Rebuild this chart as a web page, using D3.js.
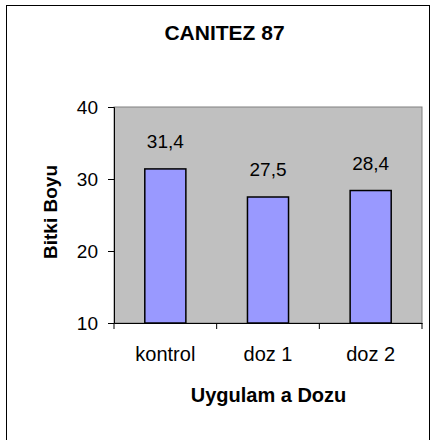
<!DOCTYPE html>
<html>
<head>
<meta charset="utf-8">
<script src="https://cdn.jsdelivr.net/npm/d3@7"></script>
<style>
  body { margin: 0; background: #fff; }
  svg text { font-family: "Liberation Sans", Arial, sans-serif; fill: #000; }
</style>
</head>
<body>
<div id="chart"></div>
<script>
// CANITEZ 87 — bitki boyu / uygulama dozu
const categories = ["kontrol", "doz 1", "doz 2"];
const values = [31.4, 27.5, 28.4];
const yTicks = [10, 20, 30, 40];

const width = 435, height = 440;
const plot = { left: 114, right: 422, top: 107, bottom: 323 };
const FONT = "Liberation Sans, Arial, sans-serif";

const svg = d3.select("#chart").append("svg")
  .attr("width", width).attr("height", height);

// cadre extérieur
svg.append("rect")
  .attr("x", 6.5).attr("y", 5.5)
  .attr("width", 423).attr("height", 440)
  .attr("fill", "#fff").attr("stroke", "#000").attr("stroke-width", 1);

const x = d3.scaleBand()
  .domain(categories)
  .range([plot.left, plot.right])
  .paddingInner(0.6)
  .paddingOuter(0.3);

const y = d3.scaleLinear()
  .domain([10, 40])
  .range([plot.bottom, plot.top]);

// fond gris de la zone de tracé
svg.append("rect")
  .attr("x", plot.left).attr("y", plot.top)
  .attr("width", plot.right - plot.left).attr("height", plot.bottom - plot.top)
  .attr("fill", "#c0c0c0").attr("stroke", "#808080").attr("stroke-width", 1);

// barres
svg.append("g").selectAll("rect")
  .data(values)
  .join("rect")
    .attr("x", (d, i) => x(categories[i]))
    .attr("y", d => y(d))
    .attr("width", x.bandwidth())
    .attr("height", d => y(10) - y(d))
    .attr("fill", "#9999ff")
    .attr("stroke", "#000")
    .attr("stroke-width", 1.5);

// étiquettes de valeurs
svg.append("g").selectAll("text")
  .data(values)
  .join("text")
    .attr("x", (d, i) => x(categories[i]) + x.bandwidth() / 2)
    .attr("y", d => y(d) - 21)
    .attr("text-anchor", "middle")
    .attr("font-size", 19)
    .text(d => String(d).replace(".", ","));

// axe Y
const yAxis = svg.append("g")
  .attr("transform", `translate(${plot.left},0)`)
  .call(d3.axisLeft(y).tickValues(yTicks).tickSize(6).tickPadding(10));
yAxis.select(".domain").attr("stroke", "#000");
yAxis.selectAll("text").attr("font-size", 19).attr("font-family", FONT);

// axe X : graduations entre les catégories
const xAxis = svg.append("g")
  .attr("transform", `translate(0,${plot.bottom})`)
  .call(d3.axisBottom(x).tickSize(0).tickPadding(24));
xAxis.select(".domain").attr("stroke", "#000");
xAxis.selectAll("text").attr("font-size", 20).attr("font-family", FONT);
const step = x.step();
const bounds = d3.range(categories.length + 1).map(i => plot.left + i * step);
xAxis.selectAll("line.sep")
  .data(bounds)
  .join("line")
    .attr("class", "sep")
    .attr("x1", d => d).attr("x2", d => d)
    .attr("y1", 0).attr("y2", 6)
    .attr("stroke", "#000");

// titres
svg.append("text")
  .attr("x", 224.5).attr("y", 40)
  .attr("text-anchor", "middle")
  .attr("font-size", 21).attr("font-weight", "bold")
  .text("CANITEZ 87");

svg.append("text")
  .attr("x", 268.5).attr("y", 402)
  .attr("text-anchor", "middle")
  .attr("font-size", 20).attr("font-weight", "bold")
  .text("Uygulam a Dozu");

svg.append("text")
  .attr("transform", `translate(57,212) rotate(-90)`)
  .attr("text-anchor", "middle")
  .attr("font-size", 19).attr("font-weight", "bold")
  .text("Bitki Boyu");
</script>
</body>
</html>
